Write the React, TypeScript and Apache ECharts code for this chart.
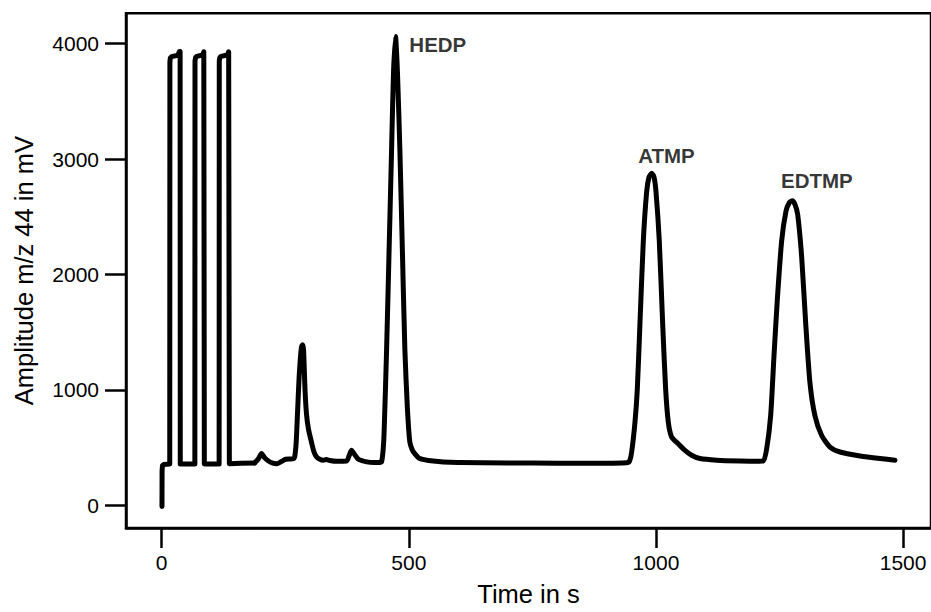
import React, { useEffect, useRef } from "react";
import * as echarts from "echarts";

// Trace segments: [time in s, amplitude in mV]
const startAndPulses: number[][] = [
  [0.6, -10], [0.8, 300], [1.6, 345], [4, 355], [16.3, 358],
  [16.6, 3840], [17.5, 3875], [20, 3888], [33, 3900], [35.5, 3930], [37.3, 3932], [37.6, 360],
  [67.1, 360], [67.4, 3850], [68.5, 3880], [71, 3890], [83, 3902], [85.2, 3930], [86, 3932], [86.3, 360],
  [116.2, 360], [116.5, 3850], [117.6, 3880], [120, 3890], [133, 3902], [135.5, 3930], [136.6, 3932], [136.9, 362],
  [160, 365], [188, 368],
];

const minorPeaks: number[][] = [
  [188, 368], [195, 400], [202, 449], [209, 410], [216, 385], [225, 366], [233, 362], [242, 380], [251, 400],
  [260, 402], [266, 405], [269, 420], [272, 540], [275, 820], [278, 1110], [281, 1300], [283, 1375],
  [285, 1392], [287, 1350], [290, 1000], [293, 790], [297, 660], [303, 549], [308, 465], [313, 422],
  [320, 400], [327, 392], [333, 398], [340, 390], [354, 383], [374, 385], [380, 440], [384, 477],
  [389, 450], [398, 400], [415, 377], [430, 372], [442, 372],
];

const hedpPeak: number[][] = [
  [445, 380], [448, 480], [450, 634], [455, 1349], [460, 2200], [465, 3063], [469, 3750], [473, 4063],
  [477, 3750], [482, 3063], [487, 2200], [492, 1349], [497, 850], [502, 549], [507, 480], [512, 449],
  [522, 406], [540, 390], [570, 377], [600, 372], [700, 368], [800, 366], [900, 366], [940, 370],
];

const atmpPeak: number[][] = [
  [946, 380], [950.8, 463], [957.5, 720], [962.2, 1006], [967.6, 1577], [974.4, 2292], [981.2, 2720],
  [986, 2845], [991.3, 2877], [996, 2845], [1000, 2720], [1006.7, 2292], [1013.5, 1577], [1019.6, 1006],
  [1025, 720], [1031.8, 592], [1045, 535], [1058.7, 477], [1072, 435], [1089, 406], [1122.8, 392],
  [1170, 385], [1210, 383],
];

const edtmpPeak: number[][] = [
  [1217, 385], [1224, 492], [1232, 777], [1238.7, 1292], [1245.4, 1777], [1254.3, 2292], [1263, 2549],
  [1270, 2625], [1275.8, 2640], [1281, 2610], [1286.7, 2520], [1294.8, 2149], [1302.9, 1577],
  [1311.5, 1063], [1321.6, 777], [1335.2, 606], [1352, 506], [1372.3, 463], [1412.8, 429],
  [1453.2, 406], [1483.5, 392],
];

// Peak annotations: [time, amplitude, name]
const peakLabels: (number | string)[][] = [
  [501, 3989, "HEDP"],
  [964, 3028, "ATMP"],
  [1253, 2816, "EDTMP"],
];

const xTicks = [0, 500, 1000, 1500];
const yTicks = [0, 1000, 2000, 3000, 4000];

const FONT = "'Liberation Sans', Arial, Helvetica, sans-serif";

export default function App() {
  const ref = useRef<HTMLDivElement>(null);

  useEffect(() => {
    if (!ref.current) return;
    const chart = echarts.init(ref.current, undefined, { renderer: "svg" });
    const peaks = [...minorPeaks, ...hedpPeak, ...atmpPeak, ...edtmpPeak];
    const lineStyle = { color: "#000", width: 5, join: "round", cap: "round" };
    chart.setOption({
      animation: false,
      backgroundColor: "#fff",
      grid: {
        left: 126,
        right: 0,
        top: 13.3,
        bottom: 78.5,
        show: true,
        borderColor: "#000",
        borderWidth: 2.5,
        backgroundColor: "transparent",
      },
      xAxis: {
        type: "value",
        min: -72.2,
        max: 1556.4,
        name: "Time in s",
        nameLocation: "middle",
        nameGap: 53,
        nameTextStyle: { fontSize: 25.5, color: "#000", fontFamily: FONT },
        axisLine: { show: true, onZero: false, lineStyle: { color: "#000", width: 2.5 } },
        axisTick: {
          show: true,
          length: 20,
          inside: false,
          customValues: xTicks,
          lineStyle: { color: "#000", width: 2.5 },
        },
        axisLabel: {
          customValues: xTicks,
          formatter: (v: number) => String(v),
          fontSize: 21,
          color: "#000",
          fontFamily: FONT,
          margin: 24,
        },
        splitLine: { show: false },
      },
      yAxis: {
        type: "value",
        min: -195.4,
        max: 4263,
        name: "Amplitude m/z 44 in mV",
        nameLocation: "middle",
        nameGap: 89,
        nameTextStyle: { fontSize: 25.5, color: "#000", fontFamily: FONT },
        axisLine: { show: true, onZero: false, lineStyle: { color: "#000", width: 2.5 } },
        axisTick: {
          show: true,
          length: 21,
          inside: false,
          customValues: yTicks,
          lineStyle: { color: "#000", width: 2.5 },
        },
        axisLabel: {
          customValues: yTicks,
          formatter: (v: number) => String(v),
          fontSize: 21,
          color: "#000",
          fontFamily: FONT,
          margin: 27,
        },
        splitLine: { show: false },
      },
      series: [
        {
          type: "line",
          data: startAndPulses,
          showSymbol: false,
          symbol: "none",
          smooth: false,
          lineStyle,
        },
        {
          type: "line",
          data: peaks,
          showSymbol: false,
          symbol: "none",
          smooth: 0.22,
          lineStyle,
        },
        {
          type: "scatter",
          data: peakLabels,
          symbolSize: 0,
          silent: true,
          label: {
            show: true,
            position: "right",
            distance: 0,
            formatter: (p: any) => p.value[2],
            fontSize: 20.5,
            fontWeight: "bold",
            color: "#000",
            fontFamily: FONT,
          },
        },
      ],
    });
    return () => chart.dispose();
  }, []);

  return (
    <div
      ref={ref}
      style={{ position: "absolute", left: 0, top: 0, width: 931, height: 612 }}
    />
  );
}
